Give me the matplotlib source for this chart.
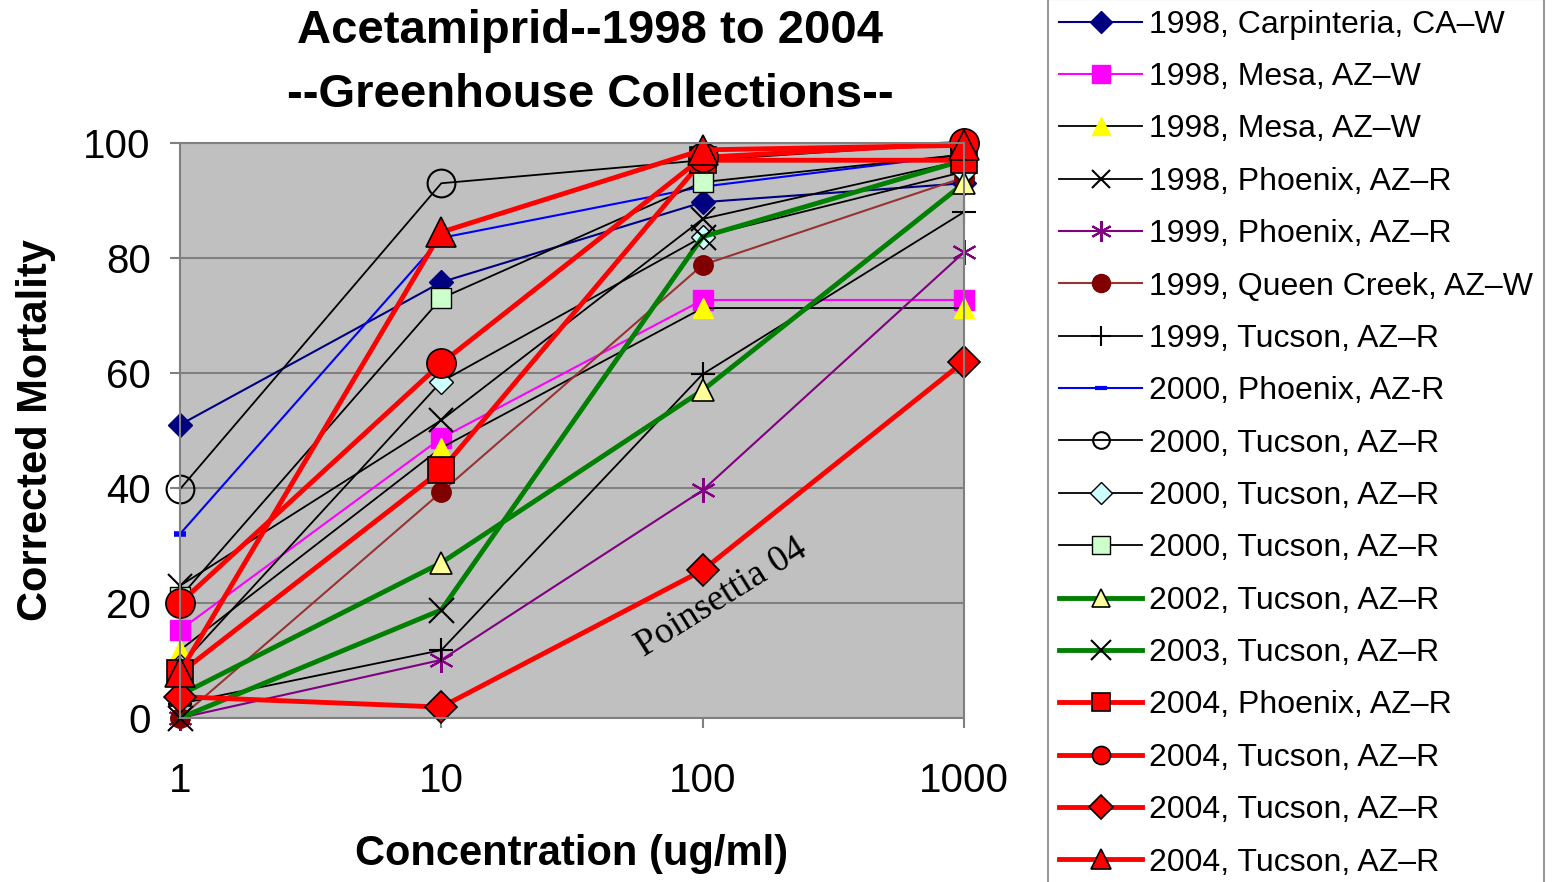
import matplotlib
matplotlib.use("Agg")
import matplotlib.pyplot as plt
from matplotlib.lines import Line2D

# ---------------- data ----------------
concentrations = [1, 10, 100, 1000]
x_tick_labels = ["1", "10", "100", "1000"]
y_ticks = [0, 20, 40, 60, 80, 100]

labels = [
    "1998, Carpinteria, CA\u2013W",
    "1998, Mesa, AZ\u2013W",
    "1998, Mesa, AZ\u2013W",
    "1998, Phoenix, AZ\u2013R",
    "1999, Phoenix, AZ\u2013R",
    "1999, Queen Creek, AZ\u2013W",
    "1999, Tucson, AZ\u2013R",
    "2000, Phoenix, AZ-R",
    "2000, Tucson, AZ\u2013R",
    "2000, Tucson, AZ\u2013R",
    "2000, Tucson, AZ\u2013R",
    "2002, Tucson, AZ\u2013R",
    "2003, Tucson, AZ\u2013R",
    "2004, Phoenix, AZ\u2013R",
    "2004, Tucson, AZ\u2013R",
    "2004, Tucson, AZ\u2013R",
    "2004, Tucson, AZ\u2013R",
]

carpinteria_1998 = [51, 75.8, 89.7, 93]
mesa_1998_a = [15.3, 48.7, 72.7, 72.7]
mesa_1998_b = [11.8, 47, 71.3, 71.3]
phoenix_1998 = [23, 51.8, 86.8, 97]
phoenix_1999 = [0, 10.1, 39.6, 81]
queen_creek_1999 = [0, 39.3, 78.8, 94]
tucson_1999 = [2.5, 11.8, 59.8, 88]
phoenix_2000 = [32, 83.5, 92.4, 98]
tucson_2000_a = [39.8, 93, 97, 100]
tucson_2000_b = [9, 58.5, 83.7, 95]
tucson_2000_c = [21, 73, 93.2, 98]
tucson_2002 = [4, 27, 57, 93]
tucson_2003 = [0, 18.8, 83.7, 97]
phoenix_2004 = [7.8, 43.1, 97, 97]
tucson_2004_a = [20, 61.7, 97.5, 100]
tucson_2004_b = [3.7, 1.9, 25.7, 62]
tucson_2004_c = [8, 84.5, 98.8, 99.6]

series = [carpinteria_1998, mesa_1998_a, mesa_1998_b, phoenix_1998, phoenix_1999,
          queen_creek_1999, tucson_1999, phoenix_2000, tucson_2000_a, tucson_2000_b,
          tucson_2000_c, tucson_2002, tucson_2003, phoenix_2004, tucson_2004_a,
          tucson_2004_b, tucson_2004_c]

# ---------------- styles ----------------
asterisk = (6, 2, 0)
styles = [
    dict(color="#000080", lw=1.5, marker="D", mfc="#000080", mec="#000080", ms=12),
    dict(color="#FF00FF", lw=1.5, marker="s", mfc="#FF00FF", mec="#FF00FF", ms=15),
    dict(color="black", lw=1.3, marker="^", mfc="#FFFF00", mec="#FFFF00", ms=15),
    dict(color="black", lw=1.3, marker="x", mfc="black", mec="black", ms=17, mew=1.5),
    dict(color="#800080", lw=1.5, marker=asterisk, mfc="#800080", mec="#800080", ms=18, mew=1.5),
    dict(color="#993333", lw=1.5, marker="o", mfc="#800000", mec="#800000", ms=14),
    dict(color="black", lw=1.3, marker="+", mfc="black", mec="black", ms=17, mew=1.5),
    dict(color="#0000FF", lw=1.5, marker="_", mfc="#0000FF", mec="#0000FF", ms=9, mew=4),
    dict(color="black", lw=1.3, marker="o", mfc="none", mec="black", ms=20, mew=1.5),
    dict(color="black", lw=1.3, marker="D", mfc="#CCFFFF", mec="black", ms=12),
    dict(color="black", lw=1.3, marker="s", mfc="#CCFFCC", mec="black", ms=14),
    dict(color="#008000", lw=3.5, marker="^", mfc="#FFFF99", mec="black", ms=16, mew=1.2),
    dict(color="#008000", lw=3.5, marker="x", mfc="black", mec="black", ms=18, mew=1.5),
    dict(color="#FF0000", lw=3.5, marker="s", mfc="#FF0000", mec="black", ms=19, mew=1.2),
    dict(color="#FF0000", lw=3.5, marker="o", mfc="#FF0000", mec="black", ms=21, mew=1.2),
    dict(color="#FF0000", lw=3.5, marker="D", mfc="#FF0000", mec="black", ms=16, mew=1.2),
    dict(color="#FF0000", lw=3.5, marker="^", mfc="#FF0000", mec="black", ms=21, mew=1.2),
]
legend_marker_sizes = [11, 13, 13, 13, 15, 13, 15, 8, 12, 11, 13, 13, 14, 13, 13, 12, 14]

FONT = "Liberation Sans"

fig = plt.figure(figsize=(15.54, 8.82), dpi=100)
fig.patch.set_facecolor("white")
ax = fig.add_axes([180 / 1554, 164 / 882, 784 / 1554, 575 / 882])
ax.set_facecolor("#C0C0C0")

handles = []
for vals, st, lab, lms in zip(series, styles, labels, legend_marker_sizes):
    ax.plot(concentrations, vals, label=lab, clip_on=False, **st)
    hst = dict(st)
    hst["ms"] = lms
    if hst["marker"] == "_":
        hst["mew"] = 3
    handles.append(Line2D([], [], **hst))

ax.set_xscale("log")
ax.set_xlim(1, 1000)
ax.set_ylim(0, 100)
ax.set_xticks(concentrations)
ax.set_xticklabels(x_tick_labels)
ax.minorticks_off()
ax.set_yticks(y_ticks)
ax.set_yticklabels([str(v) for v in y_ticks])
ax.yaxis.grid(True, color="#808080", lw=1.5)
ax.set_axisbelow(True)
for sp in ax.spines.values():
    sp.set_color("#808080")
    sp.set_linewidth(1.5)
ax.tick_params(axis="both", which="major", direction="out", length=7, color="#808080",
               width=1.5, labelsize=29)
ax.tick_params(axis="x", pad=25)
ax.tick_params(axis="y", pad=14)
for t in ax.get_xticklabels() + ax.get_yticklabels():
    t.set_fontfamily(FONT)

ax.set_xlabel("Concentration (ug/ml)", fontsize=30, fontweight="bold", family=FONT, labelpad=24)
ax.set_ylabel("Corrected Mortality", fontsize=30, fontweight="bold", family=FONT, labelpad=20)

fig.text(590 / 1554, 1 - 31 / 882, "Acetamiprid--1998 to 2004", ha="center", va="center",
         fontsize=34, fontweight="bold", family=FONT)
fig.text(590 / 1554, 1 - 95 / 882, "--Greenhouse Collections--", ha="center", va="center",
         fontsize=34, fontweight="bold", family=FONT)

ax.text(118, 20.9, "Poinsettia 04", rotation=32, ha="center", va="center",
        rotation_mode="anchor", fontsize=27, family="Liberation Serif", color="black")

leg = fig.legend(handles=handles, labels=labels, loc="center left",
                 bbox_to_anchor=(1048 / 1554, 0.497), prop={"family": FONT, "size": 23},
                 handlelength=2.6, handletextpad=0.2, labelspacing=0.7,
                 borderpad=0.35, borderaxespad=0, frameon=True, fancybox=False)
leg.get_frame().set_edgecolor("#808080")
leg.get_frame().set_linewidth(1.5)

fig.savefig("out.png", dpi=100, facecolor="white")
